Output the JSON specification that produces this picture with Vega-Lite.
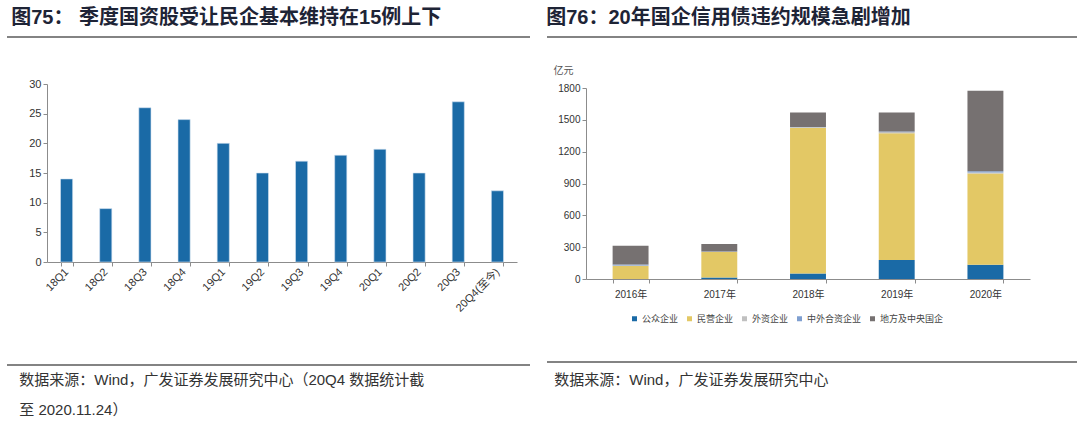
{
  "$schema": "https://vega.github.io/schema/vega-lite/v6.json",
  "padding": {"left": 2, "top": 8, "right": 0, "bottom": 0},
  "config": {
    "font": "Liberation Sans, Noto Sans CJK SC",
    "view": {"stroke": null},
    "axis": {"domainColor": "#8c8c8c", "tickColor": "#8c8c8c", "tickSize": 4, "labelColor": "#333333", "grid": false}
  },
  "spacing": 15,
  "resolve": {"legend": {"color": "independent"}},
  "hconcat": [
    {
      "spacing": 50,
      "vconcat": [
        {
          "spacing": 40,
          "vconcat": [
            {
              "title": {"text": "图75： 季度国资股受让民企基本维持在15例上下", "anchor": "start", "orient": "top", "offset": 8, "dx": 5, "fontSize": 20, "fontWeight": "bold", "color": "#1e2436", "font": "Liberation Sans, Noto Sans CJK SC"},
              "width": 523,
              "height": 1,
              "data": {"values": [{"v": 0}]},
              "mark": {"type": "rule", "color": "#5a5a5a", "strokeWidth": 1.5},
              "encoding": {"y": {"field": "v", "type": "quantitative", "axis": null, "scale": {"domain": [0, 1]}}}
            },
            {
              "width": 510,
              "height": 178,
              "data": {"values": [
                {"q": "18Q1", "n": 14}, {"q": "18Q2", "n": 9}, {"q": "18Q3", "n": 26}, {"q": "18Q4", "n": 24},
                {"q": "19Q1", "n": 20}, {"q": "19Q2", "n": 15}, {"q": "19Q3", "n": 17}, {"q": "19Q4", "n": 18},
                {"q": "20Q1", "n": 19}, {"q": "20Q2", "n": 15}, {"q": "20Q3", "n": 27}, {"q": "20Q4(至今)", "n": 12}
              ]},
              "mark": {"type": "bar", "color": "#1a6aa6", "stroke": "#d3e3f1", "strokeWidth": 0.6},
              "encoding": {
                "x": {"field": "q", "type": "nominal", "sort": null, "scale": {"range": [40, 510], "paddingInner": 0.69, "paddingOuter": 0.345},
                  "axis": {"title": null, "labelAngle": -45, "labelAlign": "right", "labelBaseline": "middle", "tickBand": "extent", "labelFontSize": 11, "labelPadding": 4}},
                "y": {"field": "n", "type": "quantitative", "scale": {"domain": [0, 30]},
                  "axis": {"title": null, "offset": -40, "values": [0, 5, 10, 15, 20, 25, 30], "labelFontSize": 11}}
              }
            }
          ]
        },
        {
          "title": {"text": ["数据来源：Wind，广发证券发展研究中心（20Q4 数据统计截", "至 2020.11.24）"], "anchor": "start", "orient": "bottom", "offset": 7, "dx": 13, "fontSize": 15, "fontWeight": "normal", "color": "#333333", "lineHeight": 30, "font": "Liberation Sans, Noto Sans CJK SC"},
          "width": 523,
          "height": 1,
          "data": {"values": [{"v": 1}]},
          "mark": {"type": "rule", "color": "#5a5a5a", "strokeWidth": 1.5},
          "encoding": {"y": {"field": "v", "type": "quantitative", "axis": null, "scale": {"domain": [0, 1]}}}
        }
      ]
    },
    {
      "spacing": 37,
      "resolve": {"legend": {"color": "independent"}},
      "vconcat": [
        {
          "spacing": 27,
          "resolve": {"legend": {"color": "independent"}},
          "vconcat": [
            {
              "title": {"text": "图76：20年国企信用债违约规模急剧增加", "anchor": "start", "orient": "top", "offset": 8, "dx": 0, "fontSize": 20, "fontWeight": "bold", "color": "#1e2436", "font": "Liberation Sans, Noto Sans CJK SC"},
              "width": 530,
              "height": 1,
              "data": {"values": [{"v": 0}]},
              "mark": {"type": "rule", "color": "#5a5a5a", "strokeWidth": 1.5},
              "encoding": {"y": {"field": "v", "type": "quantitative", "axis": null, "scale": {"domain": [0, 1]}}}
            },
            {
              "width": 483,
              "height": 191,
              "data": {"values": [
                {"y": "2016年", "t": "公众企业", "k": 1, "v": 0}, {"y": "2016年", "t": "民营企业", "k": 2, "v": 122}, {"y": "2016年", "t": "外资企业", "k": 3, "v": 6}, {"y": "2016年", "t": "中外合资企业", "k": 4, "v": 8}, {"y": "2016年", "t": "地方及中央国企", "k": 5, "v": 178},
                {"y": "2017年", "t": "公众企业", "k": 1, "v": 14}, {"y": "2017年", "t": "民营企业", "k": 2, "v": 240}, {"y": "2017年", "t": "外资企业", "k": 3, "v": 3}, {"y": "2017年", "t": "中外合资企业", "k": 4, "v": 2}, {"y": "2017年", "t": "地方及中央国企", "k": 5, "v": 72},
                {"y": "2018年", "t": "公众企业", "k": 1, "v": 53}, {"y": "2018年", "t": "民营企业", "k": 2, "v": 1372}, {"y": "2018年", "t": "外资企业", "k": 3, "v": 6}, {"y": "2018年", "t": "中外合资企业", "k": 4, "v": 2}, {"y": "2018年", "t": "地方及中央国企", "k": 5, "v": 135},
                {"y": "2019年", "t": "公众企业", "k": 1, "v": 179}, {"y": "2019年", "t": "民营企业", "k": 2, "v": 1195}, {"y": "2019年", "t": "外资企业", "k": 3, "v": 12}, {"y": "2019年", "t": "中外合资企业", "k": 4, "v": 3}, {"y": "2019年", "t": "地方及中央国企", "k": 5, "v": 179},
                {"y": "2020年", "t": "公众企业", "k": 1, "v": 135}, {"y": "2020年", "t": "民营企业", "k": 2, "v": 860}, {"y": "2020年", "t": "外资企业", "k": 3, "v": 8}, {"y": "2020年", "t": "中外合资企业", "k": 4, "v": 12}, {"y": "2020年", "t": "地方及中央国企", "k": 5, "v": 760}
              ]},
              "mark": {"type": "bar"},
              "encoding": {
                "x": {"field": "y", "type": "nominal", "sort": null, "scale": {"range": [39, 483], "paddingInner": 0.595, "paddingOuter": 0.3},
                  "axis": {"title": null, "labelAngle": 0, "tickBand": "extent", "labelFontSize": 10, "labelPadding": 6}},
                "y": {"field": "v", "type": "quantitative", "stack": "zero", "scale": {"domain": [0, 1800]},
                  "axis": {"title": "亿元", "offset": -39, "titleAngle": 0, "titleX": -33, "titleY": -18, "titleAlign": "left", "titleBaseline": "middle", "titleFontSize": 10, "titleFontWeight": "normal", "titleColor": "#555555", "values": [0, 300, 600, 900, 1200, 1500, 1800], "format": "d", "labelFontSize": 10}},
                "order": {"field": "k", "type": "quantitative", "sort": "ascending"},
                "color": {"field": "t", "type": "nominal",
                  "sort": ["公众企业", "民营企业", "外资企业", "中外合资企业", "地方及中央国企"],
                  "scale": {"domain": ["公众企业", "民营企业", "外资企业", "中外合资企业", "地方及中央国企"], "range": ["#1a6aa6", "#e3c865", "#c0c0c0", "#7f9fd0", "#767171"]},
                  "legend": {"orient": "none", "legendX": 83, "legendY": 226, "direction": "horizontal", "title": null, "symbolType": "square", "symbolSize": 25, "symbolStrokeWidth": 0, "labelFontSize": 9, "labelColor": "#444444", "labelOffset": 3, "columnPadding": 6, "labelFont": "Noto Sans CJK SC"}}
              }
            }
          ]
        },
        {
          "title": {"text": "数据来源：Wind，广发证券发展研究中心", "anchor": "start", "orient": "bottom", "offset": 10, "dx": 8, "fontSize": 15, "fontWeight": "normal", "color": "#333333", "font": "Liberation Sans, Noto Sans CJK SC"},
          "width": 530,
          "height": 1,
          "data": {"values": [{"v": 1}]},
          "mark": {"type": "rule", "color": "#5a5a5a", "strokeWidth": 1.5},
          "encoding": {"y": {"field": "v", "type": "quantitative", "axis": null, "scale": {"domain": [0, 1]}}}
        }
      ]
    }
  ]
}
